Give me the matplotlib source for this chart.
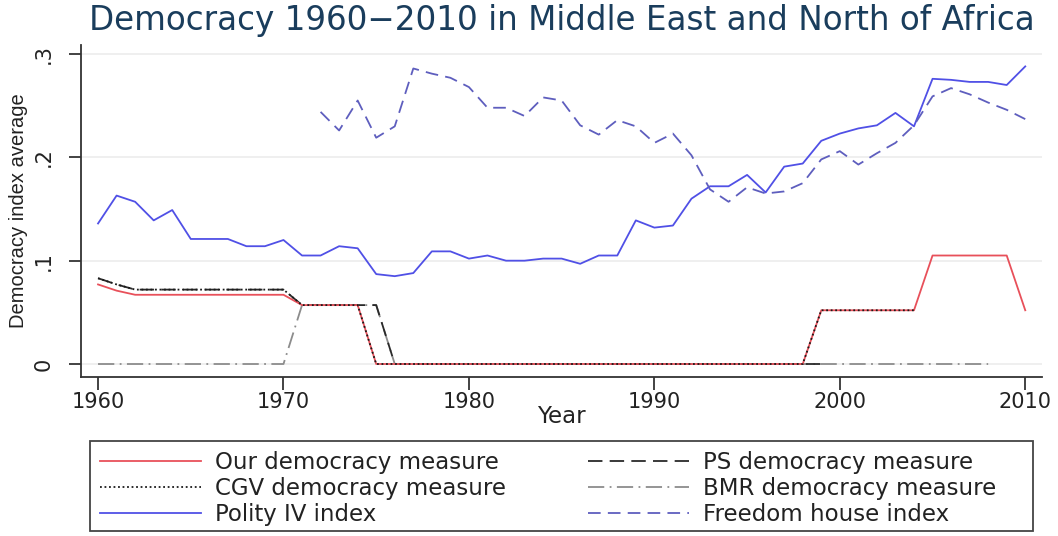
import matplotlib
matplotlib.use("Agg")
import matplotlib.pyplot as plt
from matplotlib.lines import Line2D
from matplotlib.patches import Rectangle

years = list(range(1960, 2011))

# average index values by year
ours = [0.077, 0.071, 0.067, 0.067, 0.067, 0.067, 0.067, 0.067, 0.067, 0.067,
        0.067, 0.057, 0.057, 0.057, 0.057, 0.0, 0.0, 0.0, 0.0, 0.0,
        0.0, 0.0, 0.0, 0.0, 0.0, 0.0, 0.0, 0.0, 0.0, 0.0,
        0.0, 0.0, 0.0, 0.0, 0.0, 0.0, 0.0, 0.0, 0.0, 0.052,
        0.052, 0.052, 0.052, 0.052, 0.052, 0.105, 0.105, 0.105, 0.105, 0.105,
        0.052]

cgv_years = list(range(1960, 2005))
cgv = [0.083, 0.077, 0.072, 0.072, 0.072, 0.072, 0.072, 0.072, 0.072, 0.072,
       0.072, 0.057, 0.057, 0.057, 0.057, 0.0, 0.0, 0.0, 0.0, 0.0,
       0.0, 0.0, 0.0, 0.0, 0.0, 0.0, 0.0, 0.0, 0.0, 0.0,
       0.0, 0.0, 0.0, 0.0, 0.0, 0.0, 0.0, 0.0, 0.0, 0.052,
       0.052, 0.052, 0.052, 0.052, 0.052]

ps_years = list(range(1960, 2000))
ps = [0.083, 0.077, 0.072, 0.072, 0.072, 0.072, 0.072, 0.072, 0.072, 0.072,
      0.072, 0.057, 0.057, 0.057, 0.057, 0.057, 0.0, 0.0, 0.0, 0.0,
      0.0, 0.0, 0.0, 0.0, 0.0, 0.0, 0.0, 0.0, 0.0, 0.0,
      0.0, 0.0, 0.0, 0.0, 0.0, 0.0, 0.0, 0.0, 0.0, 0.0]

bmr_years = list(range(1960, 2009))
bmr = [0.0, 0.0, 0.0, 0.0, 0.0, 0.0, 0.0, 0.0, 0.0, 0.0,
       0.0, 0.057, 0.057, 0.057, 0.057, 0.057, 0.0, 0.0, 0.0, 0.0,
       0.0, 0.0, 0.0, 0.0, 0.0, 0.0, 0.0, 0.0, 0.0, 0.0,
       0.0, 0.0, 0.0, 0.0, 0.0, 0.0, 0.0, 0.0, 0.0, 0.0,
       0.0, 0.0, 0.0, 0.0, 0.0, 0.0, 0.0, 0.0, 0.0]

polity = [0.136, 0.163, 0.157, 0.139, 0.149, 0.121, 0.121, 0.121, 0.114, 0.114,
          0.120, 0.105, 0.105, 0.114, 0.112, 0.087, 0.085, 0.088, 0.109, 0.109,
          0.102, 0.105, 0.100, 0.100, 0.102, 0.102, 0.097, 0.105, 0.105, 0.139,
          0.132, 0.134, 0.160, 0.172, 0.172, 0.183, 0.166, 0.191, 0.194, 0.216,
          0.223, 0.228, 0.231, 0.243, 0.230, 0.276, 0.275, 0.273, 0.273, 0.270,
          0.288]

fh_years = list(range(1972, 2011))
freedom = [0.244, 0.226, 0.255, 0.219, 0.230, 0.286, 0.281, 0.277,
           0.268, 0.248, 0.248, 0.240, 0.258, 0.255, 0.231, 0.222, 0.236, 0.230,
           0.214, 0.223, 0.202, 0.169, 0.157, 0.171, 0.165, 0.167, 0.175, 0.198,
           0.206, 0.193, 0.204, 0.214, 0.231, 0.259, 0.267, 0.261, 0.253, 0.246,
           0.237]

labels = ["Our democracy measure", "PS democracy measure",
          "CGV democracy measure", "BMR democracy measure",
          "Polity IV index", "Freedom house index"]

# line styles per series
RED, POL, FH = "#e8505a", "#5050e6", "#5e5ebe"
CGV_C, PS_C, BMR_C = "#1a1a1a", "#2a2a2a", "#8c8c8c"
DOT, DASH, DASHDOT, FHDASH = (1, 1.5), (8, 4), (9, 3, 1, 3), (7, 4)

plt.rcParams['font.family'] = ['DejaVu Sans']

fig = plt.figure(figsize=(10.58, 5.36), dpi=100)
ax = fig.add_axes([0.0766, 0.2966, 0.9084, 0.6194])

for yv in [0, 0.1, 0.2, 0.3]:
    ax.axhline(yv, color="#ececec", lw=1.2, zorder=0)

lw = 1.3
ax.plot(bmr_years, bmr, color=BMR_C, lw=lw, dashes=DASHDOT)
ax.plot(ps_years, ps, color=PS_C, lw=lw, dashes=DASH)
ax.plot(years, ours, color=RED, lw=lw)
ax.plot(cgv_years, cgv, color=CGV_C, lw=lw, dashes=DOT)
ax.plot(years, polity, color=POL, lw=lw)
ax.plot(fh_years, freedom, color=FH, lw=lw, dashes=FHDASH)

ax.set_xlim(1959.083, 2010.91)
ax.set_ylim(-0.0126, 0.3087)
ax.set_xticks([1960, 1970, 1980, 1990, 2000, 2010])
ax.set_yticks([0, 0.1, 0.2, 0.3])
ax.set_yticklabels(["0", ".1", ".2", ".3"], rotation=90, va="center")
ax.tick_params(axis="both", direction="out", length=9, width=1.2,
               labelsize=15, colors="#222222")
ax.tick_params(axis="y", pad=11)
ax.tick_params(axis="x", pad=2)
for side in ["top", "right"]:
    ax.spines[side].set_visible(False)
for side in ["left", "bottom"]:
    ax.spines[side].set_linewidth(1.3)
    ax.spines[side].set_color("#333333")

ax.set_xlabel("Year", fontsize=16.5, color="#222222", labelpad=-5)
ax.set_ylabel("Democracy index average", fontsize=14.5, color="#222222",
              family=["Liberation Sans Narrow", "Liberation Sans"], labelpad=4)
fig.suptitle("Democracy 1960\u22122010 in Middle East and North of Africa",
             x=0.531, y=0.992, fontsize=23.5, color="#1a3d5c")

handles = [
    Line2D([], [], color=RED, lw=lw),
    Line2D([], [], color=CGV_C, lw=lw, dashes=DOT),
    Line2D([], [], color=POL, lw=lw),
    Line2D([], [], color=PS_C, lw=lw, dashes=DASH),
    Line2D([], [], color=BMR_C, lw=lw, dashes=DASHDOT),
    Line2D([], [], color=FH, lw=lw, dashes=FHDASH),
]
order = [labels[0], labels[2], labels[4], labels[1], labels[3], labels[5]]
leg = fig.legend(handles, order, ncol=2, loc="upper left",
                 bbox_to_anchor=(90 / 1058, 1 - 441 / 536),
                 borderaxespad=0, fontsize=16.5, frameon=False,
                 handlelength=4.4, handletextpad=0.6, labelspacing=0.12,
                 borderpad=0.45, columnspacing=3.6)
for t in leg.get_texts():
    t.set_color("#222222")

# legend box
fig.patches.append(Rectangle((90 / 1058, 1 - 531 / 536), 943 / 1058, 90 / 536,
                             transform=fig.transFigure, fill=False,
                             edgecolor="#444444", lw=1.3))

fig.savefig("out.png", dpi=100)
